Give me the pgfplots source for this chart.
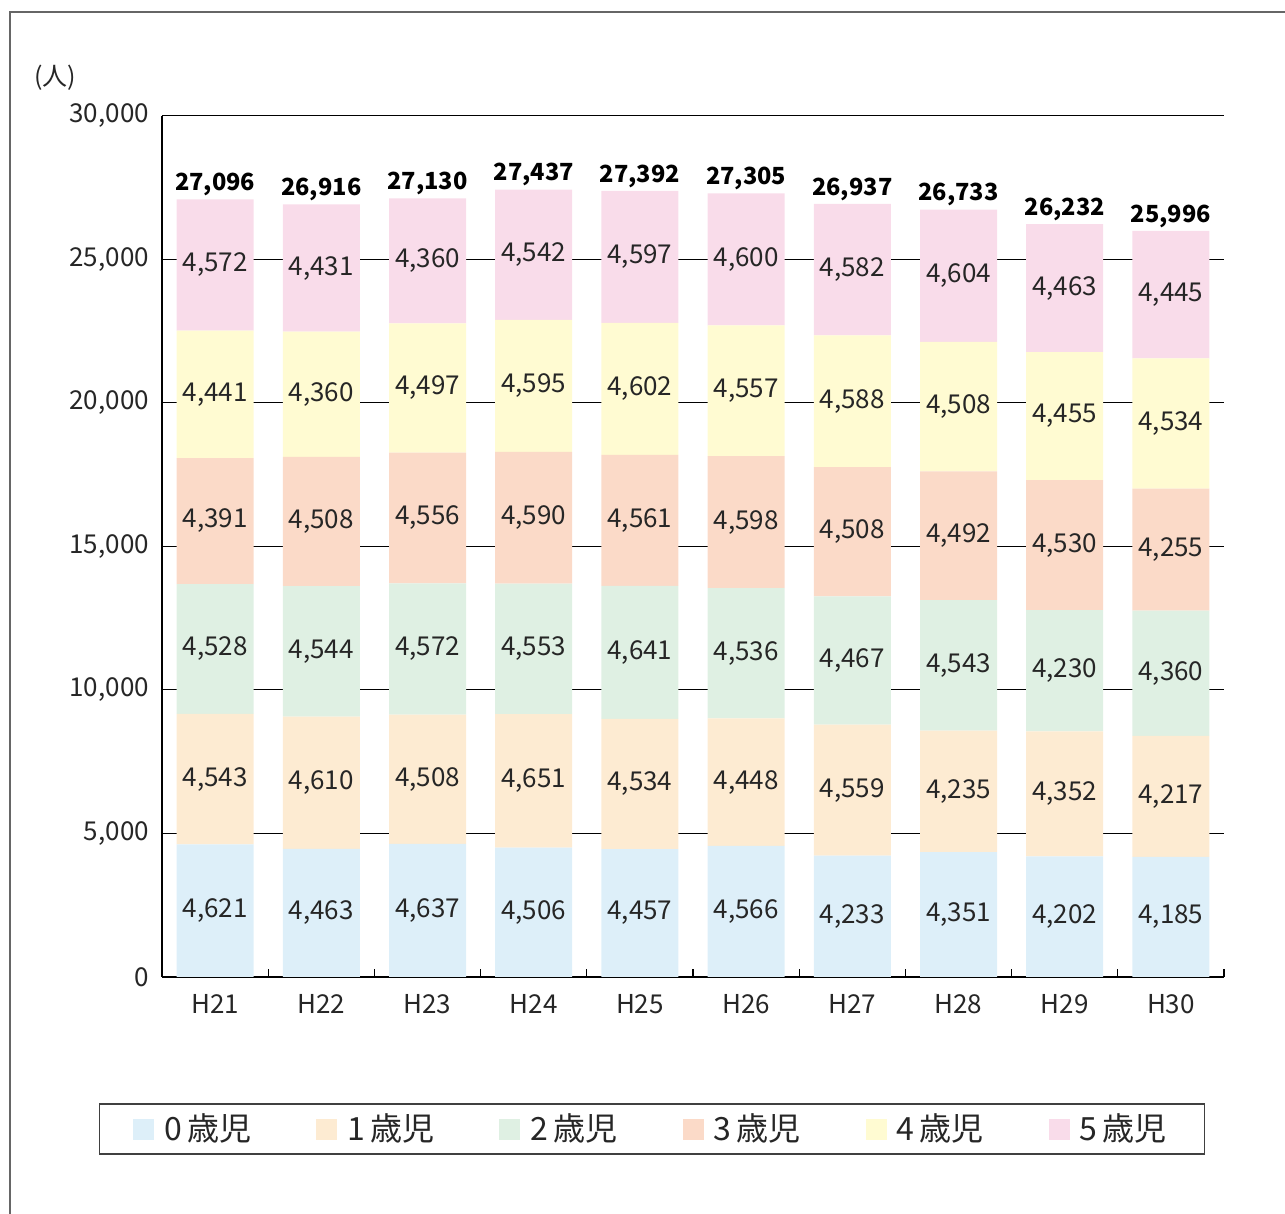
\documentclass[border=0pt]{standalone}
\usepackage{fontspec}
\setmainfont{Noto Sans CJK JP}
\usepackage{pgfplots}
\pgfplotsset{compat=1.18}
\usepackage{pgfplotstable}

\definecolor{c0}{HTML}{DDEFF9}
\definecolor{c1}{HTML}{FDEBD2}
\definecolor{c2}{HTML}{DFF0E3}
\definecolor{c3}{HTML}{FBDAC8}
\definecolor{c4}{HTML}{FFFBD2}
\definecolor{c5}{HTML}{F9DCEA}

% children by age, H21-H30
\pgfplotstableread{
x a0   a1   a2   a3   a4   a5   total
0 4621 4543 4528 4391 4441 4572 27096
1 4463 4610 4544 4508 4360 4431 26916
2 4637 4508 4572 4556 4497 4360 27130
3 4506 4651 4553 4590 4595 4542 27437
4 4457 4534 4641 4561 4602 4597 27392
5 4566 4448 4536 4598 4557 4600 27305
6 4233 4559 4467 4508 4588 4582 26937
7 4351 4235 4543 4492 4508 4604 26733
8 4202 4352 4230 4530 4455 4463 26232
9 4185 4217 4360 4255 4534 4445 25996
}\kids

\pgfplotsset{
  /pgf/number format/assume math mode=true,
  /pgf/number format/1000 sep={,},
  frame/.style={
    at={(81pt,118.5pt)}, anchor=south west,
    width=531pt, height=430.5pt, scale only axis,
    xmin=-0.5, xmax=9.5, ymin=0, ymax=30000,
  },
  seg/.style={
    fill=#1, draw=none,
    point meta=explicit, nodes near coords,
    every node near coord/.append style={
      font=\fontsize{13}{15}\selectfont, text=black!85},
  },
}

\begin{document}
\begin{tikzpicture}
\useasboundingbox (0,0) rectangle (642.5pt,607pt);
\draw[black!60, line width=0.7pt] (5pt,0) -- (5pt,601pt) -- (642.5pt,601pt);
\node[anchor=west, inner sep=0pt, font=\fontsize{12.5}{14}\selectfont, text=black!85] at (17pt,568pt) {(人)};
\begin{axis}[
  frame,
  ybar stacked, bar width=38.5pt,
  xtick={0,...,9},
  xticklabels={H21,H22,H23,H24,H25,H26,H27,H28,H29,H30},
  minor xtick={0.5,1.5,...,9.5},
  ytick={0,5000,...,30000},
  scaled y ticks=false,
  major tick length=0pt, minor tick length=4pt,
  xtick pos=lower, ytick pos=left,
  every minor tick/.append style={black, line width=0.6pt},
  axis lines*=left,
  axis line style={-, black, line width=1.4pt},
  ymajorgrids, grid style={black, line width=0.5pt},
  ticklabel style={font=\fontsize{13}{15}\selectfont, text=black!85},
  yticklabel style={xshift=-3pt},
  xticklabel style={yshift=-5pt},
  legend columns=6,
  legend style={at={(0.4614,-0.1765)}, anchor=center,
    draw=black!75, line width=0.6pt,
    font=\fontsize{16}{18}\selectfont, text=black!85,
    inner xsep=17pt, inner ysep=3pt,
    /tikz/every odd column/.append style={column sep=3pt},
    /tikz/every even column/.append style={column sep=30.5pt}},
  legend image code/.code={\fill[#1, draw=none] (0pt,-5.5pt) rectangle (10.5pt,5pt);},
]
\addplot[seg=c0] table[x=x, y=a0, meta=a0] {\kids};
\addplot[seg=c1] table[x=x, y=a1, meta=a1] {\kids};
\addplot[seg=c2] table[x=x, y=a2, meta=a2] {\kids};
\addplot[seg=c3] table[x=x, y=a3, meta=a3] {\kids};
\addplot[seg=c4] table[x=x, y=a4, meta=a4] {\kids};
\addplot[seg=c5] table[x=x, y=a5, meta=a5] {\kids};
\legend{0\,歳児,1\,歳児,2\,歳児,3\,歳児,4\,歳児,5\,歳児}
\end{axis}
% totals above the bars
\begin{axis}[frame, hide axis]
\addplot[only marks, mark=none, point meta=explicit, nodes near coords,
  every node near coord/.append style={anchor=south, inner sep=1.5pt,
    font=\fontsize{11.8}{14}\bfseries\selectfont, text=black}]
  table[x=x, y=total, meta=total] {\kids};
\end{axis}
\end{tikzpicture}
\end{document}
